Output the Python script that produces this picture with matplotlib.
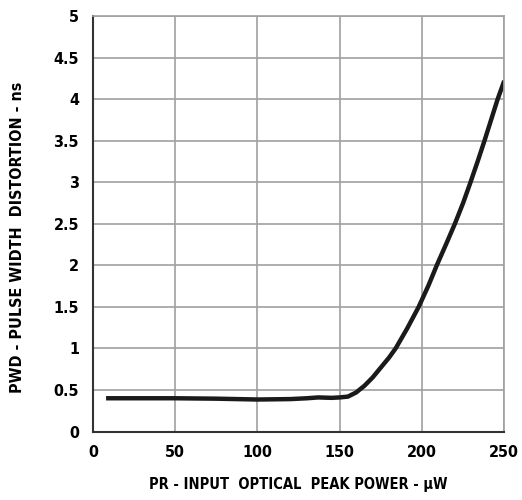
import matplotlib.pyplot as plt

# PWD vs input optical peak power
power = [8, 25, 50, 75, 100, 120, 130, 137, 145, 150, 155, 160, 165, 170, 175, 180, 184,
         191, 198, 204, 209, 215, 220, 225, 229.5, 234, 238, 242, 246, 250]
pwd = [0.40, 0.40, 0.40, 0.395, 0.385, 0.39, 0.40, 0.41, 0.405, 0.41, 0.42, 0.47, 0.55, 0.65, 0.77, 0.89, 1.0,
       1.24, 1.5, 1.76, 2.0, 2.27, 2.5, 2.75, 3.0, 3.26, 3.5, 3.75, 4.0, 4.22]
xticks = [0, 50, 100, 150, 200, 250]
yticks = [0, 0.5, 1, 1.5, 2, 2.5, 3, 3.5, 4, 4.5, 5]
ytick_labels = ['0', '0.5', '1', '1.5', '2', '2.5', '3', '3.5', '4', '4.5', '5']

plt.rcParams['font.family'] = ['DejaVu Sans']
plt.rcParams['font.stretch'] = 'condensed'
plt.rcParams['font.weight'] = 'bold'

fig = plt.figure(figsize=(5.22, 5.0), dpi=100)
ax = fig.add_axes([0.178, 0.137, 0.788, 0.831])

ax.plot(power, pwd, color='#1a1a1a', lw=3.2, solid_capstyle='butt', solid_joinstyle='round')

ax.set_xlim(0, 250)
ax.set_ylim(0, 5)
ax.set_xticks(xticks)
ax.set_yticks(yticks)
ax.set_yticklabels(ytick_labels)
ax.tick_params(length=0, labelsize=11.5, pad=10)
ax.grid(True, color='#a0a0a0', lw=1.2)
ax.set_axisbelow(True)

for s in ['top', 'right']:
    ax.spines[s].set_color('#a0a0a0')
    ax.spines[s].set_linewidth(1.2)
for s in ['left', 'bottom']:
    ax.spines[s].set_color('#333333')
    ax.spines[s].set_linewidth(1.5)

ax.set_xlabel('PR - INPUT  OPTICAL  PEAK POWER - µW', fontsize=10.5, fontweight='bold', labelpad=12)
ax.set_ylabel('PWD - PULSE WIDTH  DISTORTION - ns', fontsize=11.5, fontweight='bold')
ax.yaxis.set_label_coords(-0.165, 0.468)

fig.savefig('out.png', dpi=100)
